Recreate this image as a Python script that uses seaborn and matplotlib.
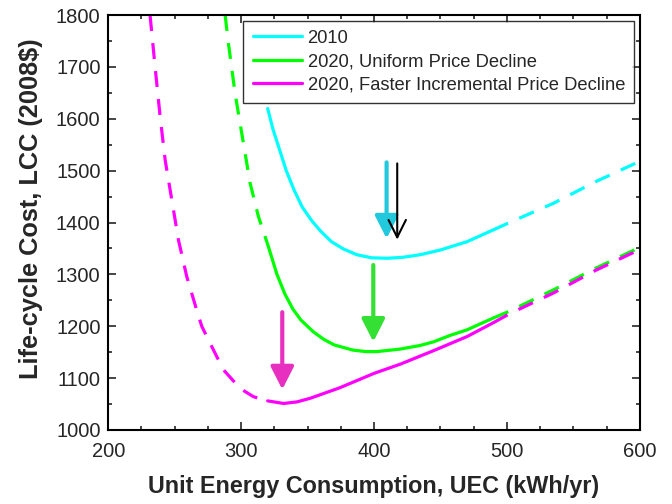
import matplotlib
matplotlib.use("Agg")
import matplotlib.pyplot as plt
from matplotlib.ticker import MultipleLocator
import seaborn as sns
import pandas as pd

# UEC (kWh/yr) and LCC (2008$)
uec_2010 = [320, 324, 329, 334, 340, 346, 353, 360, 368, 377, 387, 398, 410, 422, 435, 450,
            470, 490, 502, 535, 567, 600]
lcc_2010 = [1620, 1580, 1540, 1500, 1462, 1430, 1404, 1383, 1363, 1349, 1338, 1332, 1331, 1333,
            1338, 1347, 1363, 1386, 1400, 1437, 1479, 1518]

uec_uniform = [288, 290.5, 295.5, 300.5, 306.8, 313, 320, 327, 333, 339, 345, 354, 362, 370,
               384, 394, 402, 420, 435, 445, 457, 470, 490, 502, 535, 567, 600]
lcc_uniform = [1800, 1745, 1649, 1572, 1476, 1412, 1358, 1300, 1262, 1233, 1212, 1190, 1175,
               1164, 1154, 1151, 1151, 1156, 1163, 1170, 1182, 1193, 1216, 1229, 1270, 1312, 1352]

uec_faster = [231.5, 235.3, 239.1, 242.9, 247.9, 252.9, 259.1, 266.6, 270.4, 276.7, 286.7,
              299.3, 309.3, 320, 332, 342, 352, 374, 400, 420, 445, 470, 490, 502, 535, 567, 600]
lcc_faster = [1800, 1700, 1604, 1520, 1443, 1366, 1296, 1231, 1200, 1167, 1116, 1080, 1064,
              1056, 1051, 1054, 1061, 1081, 1109, 1127, 1153, 1180, 1207, 1224, 1264, 1308, 1348]

# solid (modelled) range; outside it the curves are dashed
solid_lo, solid_hi = 320, 490

series = ["2010", "2020, Uniform Price Decline", "2020, Faster Incremental Price Decline"]
colors = ["#00FFFF", "#00FF00", "#FF00FF"]

# arrows: x, y start, y end
arrow_x = [409.5, 417.5, 399.5, 331]
arrow_y0 = [1516, 1514, 1318, 1227]
arrow_y1 = [1369, 1367, 1170, 1078]
arrow_colors = ["#22C8DC", "black", "#33E033", "#E830C0"]

sns.set_theme(style="ticks")
plt.rcParams["font.family"] = ["Liberation Sans", "DejaVu Sans"]

fig, ax = plt.subplots(figsize=(6.72, 5.04), dpi=100)

curves = [(uec_2010, lcc_2010), (uec_uniform, lcc_uniform), (uec_faster, lcc_faster)]
for (xs, ys), name, c in zip(curves, series, colors):
    df = pd.DataFrame({"x": xs, "y": ys})
    solid = df[(df.x >= solid_lo) & (df.x <= solid_hi)]
    left = df[df.x <= solid_lo]
    right = df[df.x >= solid_hi]
    sns.lineplot(data=solid, x="x", y="y", ax=ax, color=c, lw=2.3, label=name,
                 estimator=None)
    for part in (left, right):
        if len(part) > 1:
            sns.lineplot(data=part, x="x", y="y", ax=ax, color=c, lw=2.3,
                         estimator=None, legend=False)
            ax.lines[-1].set_dashes((5, 3.8))

for x, y0, y1, c in zip(arrow_x, arrow_y0, arrow_y1, arrow_colors):
    if c == "black":
        ax.annotate("", xy=(x, y1), xytext=(x, y0),
                    arrowprops=dict(arrowstyle="->,head_length=0.5,head_width=0.25",
                                    color=c, lw=1.5, mutation_scale=25,
                                    shrinkA=0, shrinkB=0))
    else:
        ax.annotate("", xy=(x, y1), xytext=(x, y0),
                    arrowprops=dict(arrowstyle="-|>,head_length=0.55,head_width=0.28",
                                    color=c, lw=3, mutation_scale=25,
                                    shrinkA=0, shrinkB=0))

ax.set_xlim(200, 600)
ax.set_ylim(1000, 1800)
ax.xaxis.set_major_locator(MultipleLocator(100))
ax.xaxis.set_minor_locator(MultipleLocator(25))
ax.yaxis.set_major_locator(MultipleLocator(100))
ax.yaxis.set_minor_locator(MultipleLocator(50))
ax.tick_params(which="both", direction="in", top=True, right=True, width=1.2, labelsize=14.5)
ax.tick_params(which="major", length=6)
ax.tick_params(which="minor", length=3)
ax.tick_params(axis="x", pad=9)
ax.tick_params(axis="y", pad=5.5)
for s in ax.spines.values():
    s.set_linewidth(1.5)
    s.set_color("black")

ax.set_xlabel("Unit Energy Consumption, UEC (kWh/yr)", fontsize=16.8, fontweight="bold", labelpad=10)
ax.set_ylabel("Life-cycle Cost, LCC (2008$)", fontsize=18.3, fontweight="bold")
ax.yaxis.set_label_coords(-0.122, 0.533)

leg = ax.legend(loc="upper right", fontsize=13.2, frameon=True, fancybox=False,
                edgecolor="black", handlelength=2.7, handletextpad=0.3,
                labelspacing=0.35, borderpad=0.5, borderaxespad=0.3)
leg.get_frame().set_linewidth(1)
for h in leg.get_lines():
    h.set_linewidth(2.3)

fig.subplots_adjust(left=0.161, right=0.952, top=0.970, bottom=0.147)
fig.savefig("out.png", dpi=100)
